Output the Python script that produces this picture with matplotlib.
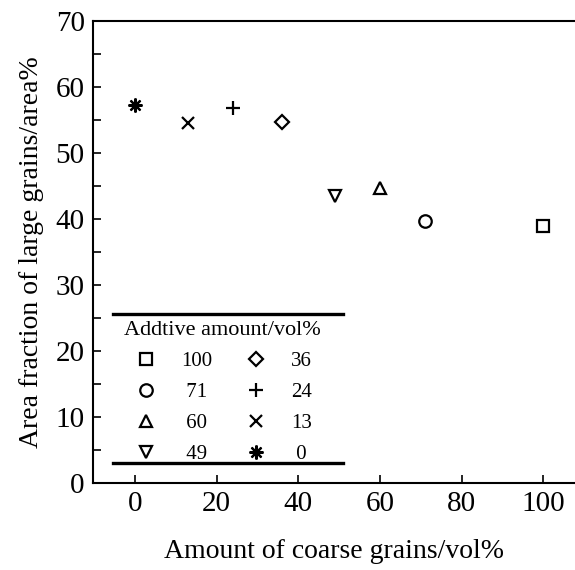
import matplotlib.pyplot as plt
from matplotlib.ticker import MultipleLocator

plt.rcParams['font.family'] = ['Liberation Serif', 'DejaVu Serif']

# additive amount (vol%) -> one point each
additive = [100, 71, 60, 49, 36, 24, 13, 0]
coarse = [100, 71, 60, 49, 36, 24, 13, 0]
area_frac = [38.9, 39.7, 44.7, 43.4, 54.6, 56.8, 54.5, 57.2]
markers = ['s', 'o', '^', 'v', 'D', '+', 'x', (8, 2, 0)]
msizes = [8, 9, 9, 9, 7, 10, 9, 10]

fig = plt.figure(figsize=(5.75, 5.70), dpi=100)
ax = fig.add_axes([93/575, 87.3/570, 1 - 93/575, 462/570])

handles = []
for x, y, m, s, a in zip(coarse, area_frac, markers, msizes, additive):
    h, = ax.plot(x, y, ls='none', marker=m, ms=s, mfc='none', mec='black',
                 mew=1.6, color='black', label=str(a), clip_on=False)
    handles.append(h)

ax.set_xlim(-10.3, 107.8)
ax.set_ylim(0, 70)
ax.xaxis.set_major_locator(MultipleLocator(20))
ax.yaxis.set_major_locator(MultipleLocator(10))
ax.yaxis.set_minor_locator(MultipleLocator(5))
ax.tick_params(which='both', direction='in', top=False, right=False,
               length=6, width=1.2, labelsize=21, pad=6)
ax.spines['right'].set_visible(False)
for sp in ['left', 'bottom', 'top']:
    ax.spines[sp].set_linewidth(1.5)

ax.set_xlabel('Amount of coarse grains/vol%', fontsize=20, labelpad=16)
ax.set_ylabel('Area fraction of large grains/area%', fontsize=20, labelpad=8)

leg = ax.legend(handles=handles, ncol=2, title='Addtive amount/vol%',
                frameon=False, fontsize=15, title_fontsize=16,
                loc='lower left', bbox_to_anchor=(0.048, 0.022),
                handletextpad=1.08, columnspacing=1.5, labelspacing=0.55,
                handlelength=1.2, borderaxespad=0)
# centre the shorter numbers in their column (quarter-em = half a digit)
for i, t in enumerate(leg.get_texts()):
    if (i < 4 and len(t.get_text()) < 3) or (i >= 4 and len(t.get_text()) < 2):
        t.set_text('\u2005' + t.get_text())

# horizontal rules above and below the legend
ax.plot([0.041, 0.519], [0.365, 0.365], transform=ax.transAxes,
        color='black', lw=2.4, clip_on=False)
ax.plot([0.041, 0.519], [0.043, 0.043], transform=ax.transAxes,
        color='black', lw=2.4, clip_on=False)

plt.savefig('out.png', dpi=100)
